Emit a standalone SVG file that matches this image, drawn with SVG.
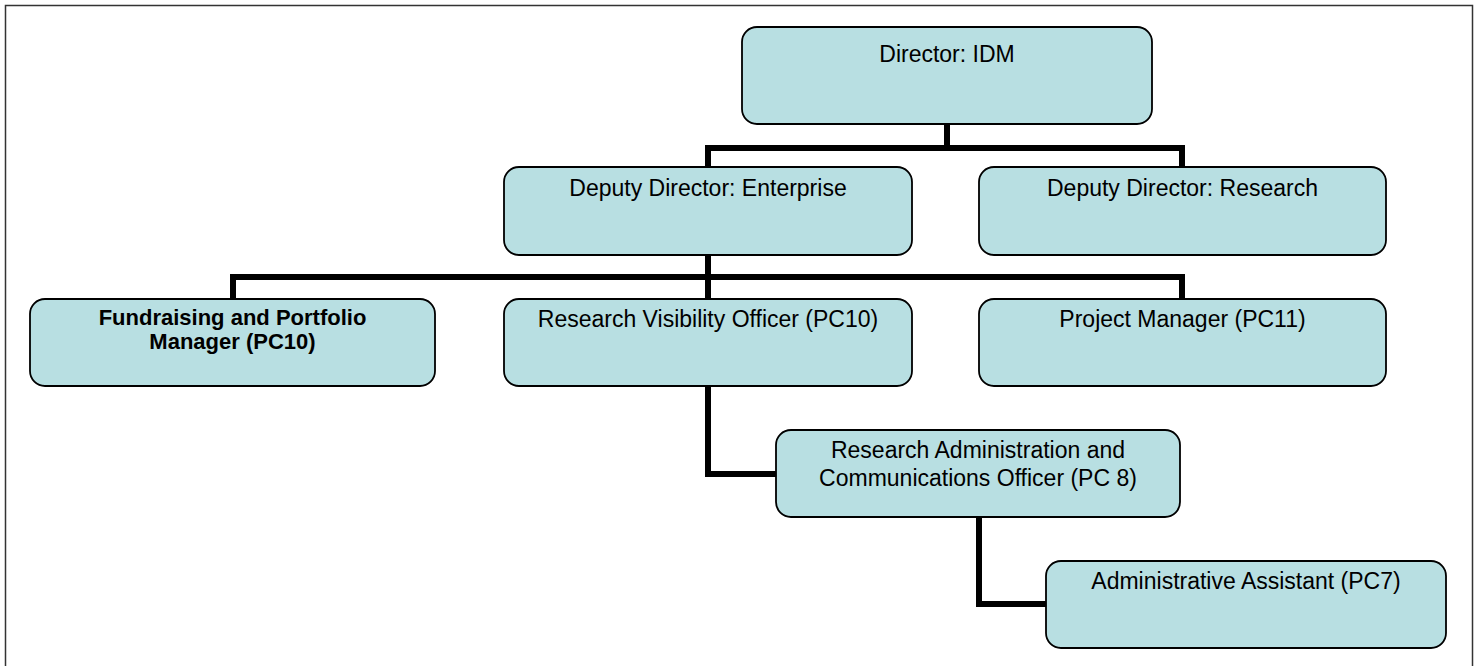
<svg xmlns="http://www.w3.org/2000/svg" width="1481" height="666" viewBox="0 0 1481 666">
  <style>
    .box { fill: #b8dfe2; stroke: #000; stroke-width: 1.8; }
    .lbl { font-family: "Liberation Sans", Arial, sans-serif; font-size: 23px; fill: #000; text-anchor: middle; }
    .bold { font-weight: bold; font-size: 22px; }
    .wire { fill: none; stroke: #000; stroke-width: 6; stroke-linejoin: miter; }
    .frame { fill: #fff; stroke: #333; stroke-width: 1.5; }
  </style>

  <!-- page frame -->
  <rect class="frame" x="5.5" y="5.5" width="1467" height="680"/>

  <!-- reporting lines -->
  <g id="connectors">
    <path class="wire" d="M947 124 V148 M708 148 H1182 M708 145 V168 M1182 145 V168"/>
    <path class="wire" d="M708 255 V300 M233 277 H1182 M233 274 V300 M1182 274 V300"/>
    <path class="wire" d="M708 386 V474 H777"/>
    <path class="wire" d="M979 516 V604 H1047"/>
  </g>

  <g id="director-idm">
    <rect class="box" x="742" y="27" width="410" height="97" rx="15"/>
    <text class="lbl" x="947" y="62">Director: IDM</text>
  </g>

  <g id="deputy-enterprise">
    <rect class="box" x="504" y="167" width="408" height="88" rx="15"/>
    <text class="lbl" x="708" y="196">Deputy Director: Enterprise</text>
  </g>

  <g id="deputy-research">
    <rect class="box" x="979" y="167" width="407" height="88" rx="15"/>
    <text class="lbl" x="1182.5" y="196">Deputy Director: Research</text>
  </g>

  <g id="fundraising-manager">
    <rect class="box" x="30" y="299" width="405" height="87" rx="15"/>
    <text class="lbl bold" x="232.5" y="325">Fundraising and Portfolio</text>
    <text class="lbl bold" x="232.5" y="349">Manager (PC10)</text>
  </g>

  <g id="research-visibility-officer">
    <rect class="box" x="504" y="299" width="408" height="87" rx="15"/>
    <text class="lbl" x="708" y="327">Research Visibility Officer (PC10)</text>
  </g>

  <g id="project-manager">
    <rect class="box" x="979" y="299" width="407" height="87" rx="15"/>
    <text class="lbl" x="1182.5" y="327">Project Manager (PC11)</text>
  </g>

  <g id="research-admin-officer">
    <rect class="box" x="776" y="430" width="404" height="87" rx="15"/>
    <text class="lbl" x="978" y="458">Research Administration and</text>
    <text class="lbl" x="978" y="486">Communications Officer (PC 8)</text>
  </g>

  <g id="administrative-assistant">
    <rect class="box" x="1046" y="561" width="400" height="87" rx="15"/>
    <text class="lbl" x="1246" y="589">Administrative Assistant (PC7)</text>
  </g>
</svg>
